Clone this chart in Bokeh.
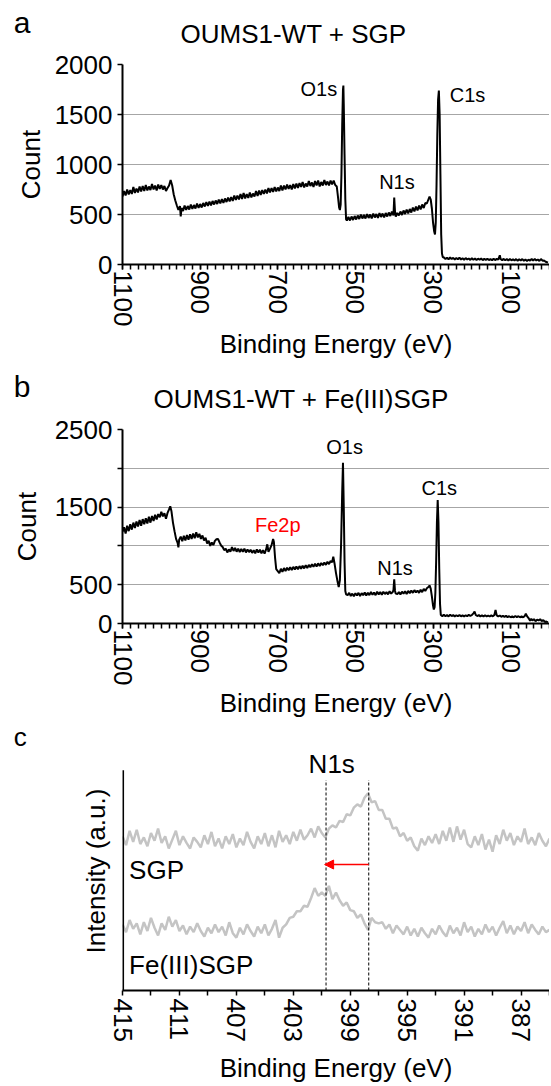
from bokeh.plotting import figure
from bokeh.models import Range1d, FixedTicker, Label, Arrow, NormalHead
from bokeh.layouts import column
from bokeh.embed import file_html
from bokeh.resources import INLINE

FONT = "Liberation Sans"

# ---------------- Panel a : OUMS1-WT + SGP survey (eV, count) ----------------
A_POINTS = [(1100,680),(1096,735),(1092,690),(1088,750),(1084,700),(1080,745),(1076,705),(1072,775),(1068,715),
            (1064,760),(1060,720),(1056,780),(1052,730),(1048,785),(1044,735),(1040,795),(1036,740),(1032,780),
            (1028,745),(1024,805),(1020,750),(1016,790),(1012,740),(1008,800),(1004,755),(1000,795),(996,750),
            (992,785),(988,735),(984,765),(980,790),(976,845),(972,790),(968,700),(964,640),(960,590),(956,545),
            (952,585),(950,480),(948,565),(944,535),(940,590),(936,545),(932,585),(928,550),(924,600),(920,555),
            (916,595),(912,560),(908,610),(904,565),(900,605),(896,570),(892,615),(888,580),(884,625),(880,585),
            (876,630),(872,590),(868,635),(864,600),(860,640),(856,605),(852,650),(848,610),(844,655),(840,615),
            (836,660),(832,625),(828,670),(824,630),(820,675),(816,635),(812,690),(808,645),(804,690),(800,650),
            (796,705),(792,655),(788,715),(784,660),(780,705),(776,665),(772,720),(768,670),(764,710),(760,680),
            (756,735),(752,685),(748,740),(744,695),(740,745),(736,705),(732,750),(728,710),(724,765),(720,720),
            (716,765),(712,725),(708,775),(704,730),(700,770),(696,735),(692,790),(688,740),(684,790),(680,750),
            (676,800),(672,755),(668,795),(664,750),(660,805),(656,760),(652,810),(648,765),(644,815),(640,775),
            (636,825),(632,770),(628,810),(624,780),(620,835),(616,785),(612,820),(608,775),(604,835),(600,790),
            (596,840),(592,780),(588,825),(584,790),(580,845),(576,795),(572,830),(568,790),(564,840),(560,800),
            (556,840),(552,795),(548,780),(545,680),(542,570),(540,545),(538,600),(536,900),(534,1400),(532,1750),
            (531,1790),(530,1600),(528,1100),(526,650),(524,450),(522,440),(518,475),(514,440),(510,480),(506,445),
            (502,485),(498,450),(494,490),(490,455),(486,500),(482,460),(478,495),(474,460),(470,505),(466,465),
            (462,500),(458,460),(454,510),(450,470),(446,505),(442,465),(438,515),(434,475),(430,510),(426,470),
            (422,515),(418,480),(414,520),(410,485),(406,530),(402,490),(400,670),(398,530),(396,480),(392,515),
            (388,490),(384,530),(380,495),(376,540),(372,505),(368,550),(364,510),(360,555),(356,520),(352,570),
            (348,530),(344,580),(340,540),(336,590),(332,550),(328,600),(324,565),(320,615),(316,610),(312,650),
            (309,680),(306,650),(303,560),(300,420),(297,330),(295,300),(293,420),(291,800),(289,1300),(287,1650),
            (285,1740),(283,1500),(281,900),(279,300),(277,110),(275,75),(272,70),(268,55),(264,68),(260,52),
            (256,70),(252,55),(248,66),(244,50),(240,64),(236,52),(232,68),(228,50),(224,62),(220,48),(216,64),
            (212,50),(208,60),(204,46),(200,62),(196,48),(192,60),(188,45),(184,58),(180,48),(176,60),(172,44),
            (168,56),(164,46),(160,58),(156,44),(152,54),(148,42),(144,58),(140,44),(136,56),(132,48),(128,92),
            (126,55),(122,44),(118,56),(114,42),(110,54),(106,40),(102,55),(98,42),(94,52),(90,40),(86,54),(82,38),
            (78,52),(74,40),(70,54),(66,38),(62,50),(58,36),(54,48),(50,38),(46,55),(42,38),(38,56),(34,40),(30,50),
            (26,35),(22,55),(18,38),(14,40),(10,28),(6,22),(4,18)]

# ---------------- Panel b : OUMS1-WT + Fe(III)SGP survey (eV, count) ----------------
B_POINTS = [(1100,1180),(1096,1240),(1092,1160),(1088,1260),(1084,1190),(1080,1280),(1076,1210),(1072,1300),
            (1068,1230),(1064,1315),(1060,1250),(1056,1335),(1052,1260),(1048,1345),(1044,1280),(1040,1355),
            (1036,1290),(1032,1375),(1028,1300),(1024,1385),(1020,1320),(1016,1400),(1012,1340),(1008,1410),
            (1004,1370),(1000,1440),(996,1380),(992,1420),(988,1350),(984,1425),(980,1470),(977,1510),(974,1450),
            (970,1300),(966,1190),(962,1090),(958,1040),(956,980),(954,1080),(950,1120),(946,1060),(942,1130),
            (938,1070),(934,1140),(930,1080),(926,1150),(922,1090),(918,1160),(914,1100),(910,1175),(906,1110),
            (902,1155),(898,1090),(894,1135),(890,1070),(886,1105),(882,1030),(878,1065),(874,1000),(870,1045),
            (866,1010),(862,1065),(858,1085),(854,1090),(850,1045),(846,1005),(842,985),(838,945),(834,965),
            (830,915),(826,955),(822,925),(818,985),(814,935),(810,975),(806,925),(802,965),(798,920),(794,960),
            (790,925),(786,965),(782,915),(778,955),(774,920),(770,950),(766,910),(762,945),(758,905),(754,955),
            (750,915),(746,950),(742,905),(738,945),(734,900),(730,955),(727,1020),(724,925),(720,965),(716,1010),
            (712,1090),(710,1050),(707,850),(704,700),(700,675),(696,650),(692,705),(688,665),(684,715),(680,675),
            (676,720),(672,685),(668,725),(664,690),(660,730),(656,695),(652,735),(648,700),(644,740),(640,705),
            (636,745),(632,710),(628,750),(624,715),(620,755),(616,725),(612,765),(608,730),(604,770),(600,735),
            (596,775),(592,740),(588,780),(584,750),(580,785),(576,755),(572,795),(568,765),(564,805),(560,790),
            (557,860),(554,780),(550,650),(546,540),(543,470),(540,560),(537,1000),(534,1700),(532,2070),(530,1500),
            (528,800),(526,420),(524,375),(520,365),(516,395),(512,355),(508,385),(504,350),(500,390),(496,360),
            (492,395),(488,355),(484,390),(480,365),(476,400),(472,360),(468,395),(464,365),(460,405),(456,370),
            (452,400),(448,365),(444,410),(440,375),(436,405),(432,370),(428,410),(424,380),(420,405),(416,375),
            (412,415),(408,385),(404,405),(402,430),(400,570),(398,420),(396,385),(392,380),(388,405),(384,375),
            (380,410),(376,385),(372,415),(368,380),(364,420),(360,390),(356,425),(352,395),(348,430),(344,400),
            (340,425),(336,395),(332,435),(328,405),(324,445),(320,420),(316,455),(312,470),(309,490),(306,450),
            (303,350),(300,230),(298,180),(296,210),(294,400),(292,800),(290,1300),(288,1590),(286,1300),(284,700),
            (282,250),(280,110),(276,95),(272,112),(268,94),(264,108),(260,92),(256,112),(252,96),(248,108),
            (244,92),(240,106),(236,94),(232,110),(228,92),(224,105),(220,90),(216,106),(212,94),(208,112),(204,96),
            (200,110),(196,130),(193,155),(190,110),(186,96),(182,108),(178,92),(174,104),(170,90),(166,106),
            (162,92),(158,102),(154,90),(150,104),(146,92),(142,110),(139,175),(136,105),(132,92),(128,102),
            (124,86),(120,100),(116,85),(112,98),(108,82),(104,94),(100,80),(96,92),(92,80),(88,96),(84,82),
            (80,94),(76,80),(72,92),(68,80),(64,95),(61,125),(58,95),(54,70),(50,35),(47,60),(44,40),(40,55),
            (36,30),(32,50),(28,40),(24,55),(20,30),(16,45),(12,20),(8,25),(4,15)]

A_EV = [e for e, c in A_POINTS]
A_COUNT = [c for e, c in A_POINTS]
B_EV = [e for e, c in B_POINTS]
B_COUNT = [c for e, c in B_POINTS]

SURVEY_XTICKS = [1100, 900, 700, 500, 300, 100]
SURVEY_XMINOR = list(range(0, 1101, 20))
A_YTICKS = [0, 500, 1000, 1500, 2000]
B_YTICKS = [0, 500, 1000, 1500, 2000, 2500]
B_YHIDDEN = [1000, 2000]

# ---------------- Panel c : N1s high resolution (0.25 eV grid from 415 eV) ----------------
C_START = 415.0
C_STEP = 0.25
SGP = [7.00, 6.60, 7.25, 6.75, 7.30, 6.65, 6.95, 6.55, 7.15, 6.80, 7.35, 6.70, 7.00, 6.45, 6.85, 7.25,
       6.60, 7.00, 6.70, 6.45, 6.95, 6.75, 6.50, 7.05, 6.65, 7.20, 6.55, 6.90, 6.45, 7.00, 6.65, 7.10,
       6.50, 6.90, 6.60, 7.20, 6.75, 6.45, 7.00, 6.65, 7.15, 6.55, 7.05, 6.50, 7.25, 6.75, 7.05, 6.65,
       7.20, 6.80, 7.30, 6.85, 7.05,
       7.35, 6.95, 7.45, 7.15, 6.95, 7.35, 7.50, 7.40, 7.70, 7.65, 8.00, 7.95, 8.30, 8.45, 8.35, 8.75,
       8.95, 8.55, 8.60, 8.20, 8.20, 7.80, 7.80, 7.35, 7.40, 7.00, 7.15, 6.80, 6.95, 6.55, 6.35, 6.90,
       6.60, 7.00, 6.70, 7.10, 6.65, 7.25, 6.80, 7.40, 6.75, 7.45, 6.85, 7.30, 6.65, 6.50, 7.00, 6.60,
       7.10, 6.40, 6.85, 6.30, 7.05, 6.65, 7.30, 6.80, 7.15, 6.60, 7.00, 6.75, 7.35, 6.65, 6.95, 6.60,
       7.15, 6.80, 6.55, 6.90]
FE_SGP = [3.00, 2.65, 3.20, 2.80, 3.05, 2.55, 3.10, 2.70, 3.30, 2.85, 2.50, 3.05, 2.75, 3.35, 2.90, 3.20,
          2.70, 2.95, 2.55, 2.90, 2.65, 3.05, 2.70, 2.45, 2.85, 2.60, 3.00, 2.65, 2.90, 2.50, 3.10, 2.60,
          2.40, 2.85, 2.55, 3.00, 2.70, 2.45, 2.90, 2.60, 3.00, 2.50, 2.80, 3.20,
          2.40, 2.85, 3.00, 3.30, 3.35, 3.60, 3.60, 3.85, 3.80, 4.20, 4.65, 4.30, 4.45, 4.30, 4.75, 4.15,
          4.45, 4.10, 3.85, 4.00, 3.65, 3.60, 3.30, 3.45, 3.05, 2.75, 3.30, 3.10, 3.05, 3.10, 2.80, 3.00,
          2.60, 2.95, 2.75, 2.55, 2.90, 2.50, 2.80, 2.45,
          2.85, 2.60, 2.40, 2.80, 2.55, 2.95, 2.65, 2.45, 2.95, 2.60, 2.85, 2.50, 3.10, 2.65, 2.90, 2.45,
          2.80, 2.55, 3.00, 2.65, 2.90, 2.50, 2.85, 3.15, 2.60, 2.95, 2.55, 2.90, 2.70, 3.10, 2.60, 3.00,
          2.75, 2.55, 2.90, 2.65, 2.75]
C_EV = [C_START - C_STEP * i for i in range(len(SGP))]
C_XTICKS = [415, 413, 411, 409, 407, 405, 403, 401, 399, 397, 395, 393, 391, 389, 387, 385]
C_XLABELED = [415, 411, 407, 403, 399, 395, 391, 387]
C_YAXIS_TOP = 10.0     # the drawn intensity axis stops here
C_YRANGE_TOP = 10.852  # head-room above it for the "N1s" heading
PEAK_OLD = 397.7   # SGP N1s
PEAK_NEW = 400.7   # Fe(III)SGP N1s
DASH_TOP = 9.55
ARROW_Y = 5.72

BLACK = "#000000"
GRID = "#a6a6a6"
CURVE_C = "#c4c4c4"
WIDTH = 549
LEFT = 122


def no_align(p):
    if "frame_align" in p.properties():
        p.frame_align = False


def add_label(p, text, x, y, size, xu="screen", yu="screen", align="left", color=BLACK):
    p.add_layout(Label(x=x, y=y, x_units=xu, y_units=yu, text=text, text_font=FONT,
                       text_font_size=f"{size}px", text_color=color, text_align=align,
                       text_baseline="middle"))


def header(height, items):
    """A bare strip above a panel holding the panel letter and the panel title."""
    h = figure(width=WIDTH, height=height, x_range=Range1d(0, WIDTH), y_range=Range1d(0, height),
               output_backend="svg", toolbar_location=None, min_border=0,
               x_axis_location=None, y_axis_location=None)
    no_align(h)
    h.outline_line_color = None
    h.grid.visible = False
    h.background_fill_color = "white"
    h.border_fill_color = "white"
    for text, x, y, size, align in items:
        add_label(h, text, x, y, size, xu="data", yu="data", align=align)
    return h


def base_fig(height, top, bottom, xr, yr):
    p = figure(width=WIDTH, height=height, x_range=Range1d(*xr), y_range=Range1d(*yr),
               output_backend="svg", toolbar_location=None,
               min_border_left=LEFT, min_border_right=0,
               min_border_top=top, min_border_bottom=bottom)
    no_align(p)
    p.outline_line_color = None
    p.background_fill_color = "white"
    p.border_fill_color = "white"
    p.xgrid.visible = False
    for ax in (p.xaxis[0], p.yaxis[0]):
        ax.axis_line_color = BLACK
        ax.axis_line_width = 2
        ax.major_tick_line_color = BLACK
        ax.minor_tick_line_color = BLACK
        ax.major_tick_line_width = 1.5
        ax.minor_tick_line_width = 1.5
        ax.major_tick_in = 0
        ax.minor_tick_in = 0
        ax.major_tick_out = 5
        ax.minor_tick_out = 5
        ax.major_label_text_font = FONT
        ax.major_label_text_color = BLACK
        ax.axis_label_text_font = FONT
        ax.axis_label_text_font_style = "normal"
        ax.axis_label_text_color = BLACK
    return p


def survey(height, top, bottom, ymax, yticks, ev, counts, count_standoff):
    p = base_fig(height, top, bottom, (1100, 0), (0, ymax))
    p.line(ev, counts, line_color=BLACK, line_width=2)
    p.xaxis.ticker = FixedTicker(ticks=SURVEY_XTICKS, minor_ticks=SURVEY_XMINOR)
    p.xaxis.major_label_orientation = "vertical"
    p.xaxis.major_label_text_font_size = "26px"
    p.xaxis.major_label_standoff = 1
    p.xaxis.axis_label = "Binding Energy (eV)"
    p.xaxis.axis_label_text_font_size = "26px"
    p.xaxis.axis_label_standoff = 0
    p.yaxis.ticker = FixedTicker(ticks=yticks)
    p.yaxis.major_label_text_font_size = "26px"
    p.yaxis.major_label_standoff = 5
    p.yaxis.axis_label = "Count"
    p.yaxis.axis_label_text_font_size = "26px"
    p.yaxis.axis_label_standoff = count_standoff
    p.yaxis.minor_tick_line_color = None
    p.ygrid.grid_line_color = GRID
    p.ygrid.grid_line_width = 1
    return p


# ---- panel a ----
ha = header(48, [("a", 13.3, 26.1, 30, "left"), ("OUMS1-WT + SGP", 180, 15, 26, "left")])
pa = survey(314, 16, 96, 2000, A_YTICKS, A_EV, A_COUNT, 6)
add_label(pa, "O1s", 547, 1758, 20, xu="data", yu="data", align="right")
add_label(pa, "N1s", 393, 824, 20, xu="data", yu="data", align="center")
add_label(pa, "C1s", 257, 1692, 20, xu="data", yu="data", align="left")

# ---- panel b ----
hb = header(51, [("b", 13.3, 26.7, 30, "left"), ("OUMS1-WT + Fe(III)SGP", 153, 15, 26, "left")])
pb = survey(308, 16, 92, 2500, B_YTICKS, B_EV, B_COUNT, 10)
pb.yaxis.major_label_overrides = {v: "" for v in B_YHIDDEN}
add_label(pb, "O1s", 528, 2270, 20, xu="data", yu="data", align="center")
add_label(pb, "N1s", 398, 720, 20, xu="data", yu="data", align="center")
add_label(pb, "C1s", 284, 1749, 20, xu="data", yu="data", align="center")
add_label(pb, "Fe2p", 700, 1274, 20, xu="data", yu="data", align="center", color="#ff0000")

# ---- panel c ----
hc = header(30, [("c", 13.3, 15, 26, "left")])
pc = base_fig(334, 0, 92, (415, 385), (0, C_YRANGE_TOP))
pc.ygrid.visible = False
pc.line(C_EV, SGP, line_color=CURVE_C, line_width=2.5)
pc.line(C_EV, FE_SGP, line_color=CURVE_C, line_width=2.5)
pc.segment(x0=[PEAK_NEW, PEAK_OLD], y0=[0, 0], x1=[PEAK_NEW, PEAK_OLD], y1=[DASH_TOP, DASH_TOP],
           line_color=BLACK, line_width=1, line_dash="3 2")
# intensity axis line, drawn only up to C_YAXIS_TOP (the heading sits above it)
pc.yaxis.axis_line_color = None
pc.segment(x0=[C_START - 0.04], y0=[0], x1=[C_START - 0.04], y1=[C_YAXIS_TOP],
           line_color=BLACK, line_width=2)
pc.add_layout(Arrow(end=NormalHead(size=9, fill_color="#ff0000", line_color="#ff0000"),
                    x_start=PEAK_OLD, y_start=ARROW_Y, x_end=PEAK_NEW + 0.1, y_end=ARROW_Y,
                    line_color="#ff0000", line_width=1.5))
pc.xaxis.ticker = FixedTicker(ticks=C_XTICKS)
pc.xaxis.major_label_overrides = {v: "" for v in C_XTICKS if v not in C_XLABELED}
pc.xaxis.major_label_orientation = "vertical"
pc.xaxis.major_label_text_font_size = "26px"
pc.xaxis.major_label_standoff = 3
pc.xaxis.axis_label = "Binding Energy (eV)"
pc.xaxis.axis_label_text_font_size = "26px"
pc.xaxis.axis_label_standoff = 8
pc.yaxis.ticker = FixedTicker(ticks=[])
pc.yaxis.major_tick_out = 0
pc.yaxis.major_label_standoff = 0
pc.yaxis.axis_label = "Intensity (a.u.)"
pc.yaxis.axis_label_text_font_size = "26px"
pc.yaxis.axis_label_standoff = 12
add_label(pc, "N1s", 400.3, 227, 26, xu="data", align="center")
add_label(pc, "SGP", 6.6, 120.6, 26)
add_label(pc, "Fe(III)SGP", 6.6, 25.6, 26)

layout = column(ha, pa, hb, pb, hc, pc)
open("out.html", "w").write(file_html(layout, INLINE))
